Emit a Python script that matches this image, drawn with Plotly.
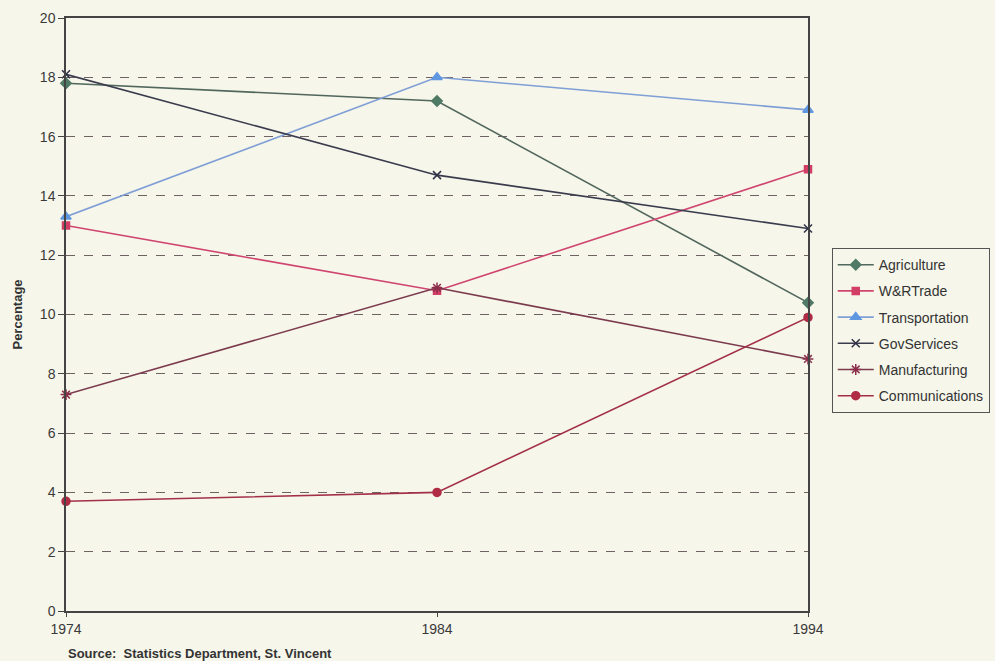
import plotly.graph_objects as go

# Share of GDP by sector, St. Vincent (percent)
years = [1974, 1984, 1994]
agriculture = [17.8, 17.2, 10.4]
wr_trade = [13.0, 10.8, 14.9]
transportation = [13.3, 18.0, 16.9]
gov_services = [18.1, 14.7, 12.9]
manufacturing = [7.3, 10.9, 8.5]
communications = [3.7, 4.0, 9.9]

year_labels = ["1974", "1984", "1994"]
y_ticks = list(range(0, 21, 2))

series = [
    ("Agriculture", agriculture, "#51665c", "#4f7a66", "diamond", 8),
    ("W&RTrade", wr_trade, "#d04470", "#d23e66", "square", 7),
    ("Transportation", transportation, "#7f9fd6", "#5f97e0", "triangle-up", 9),
    ("GovServices", gov_services, "#3a3c4e", "#2e3146", "x-thin-open", 8),
    ("Manufacturing", manufacturing, "#7c3a4e", "#8a2e4a", "asterisk-open", 9),
    ("Communications", communications, "#a43048", "#b02c45", "circle", 8),
]

bg = "#f6f6ea"
font_family = "Liberation Sans, Arial, sans-serif"

fig = go.Figure()
for i, (name, vals, lcol, mcol, sym, size) in enumerate(series):
    fig.add_trace(go.Scatter(
        x=years, y=vals, name=name, mode="lines+markers",
        line=dict(color=lcol, width=1.6),
        marker=dict(symbol=sym, size=size, color=mcol,
                    line=dict(color=mcol, width=1.5)),
        cliponaxis=False,
        legendgroup=f"g{i}",
    ))

fig.update_layout(
    width=995, height=661,
    margin=dict(l=66, r=187, t=18, b=50, autoexpand=False),
    paper_bgcolor=bg, plot_bgcolor=bg,
    font=dict(family=font_family, size=14, color="#3a3a3a"),
    showlegend=True,
    legend=dict(
        x=1.032, xanchor="left", y=0.612, yanchor="top",
        bgcolor=bg, bordercolor="#555555", borderwidth=1,
        font=dict(size=14, color="#333333"),
        tracegroupgap=5, itemwidth=36,
    ),
    xaxis=dict(
        range=[1974, 1994], tickvals=years, ticktext=year_labels,
        showgrid=False, zeroline=False,
        showline=True, linecolor="#444444", linewidth=1.5, mirror=True,
        ticks="outside", ticklen=4, tickcolor="#444444",
        tickfont=dict(size=14, color="#3a3a3a"),
    ),
    yaxis=dict(
        range=[0, 20], tickvals=y_ticks,
        showgrid=True, gridcolor="#6e6262", griddash="dash", gridwidth=1,
        zeroline=False,
        showline=True, linecolor="#444444", linewidth=1.5, mirror=True,
        ticks="outside", ticklen=6, tickcolor="#444444",
        tickfont=dict(size=14, color="#3a3a3a"),
        title=dict(text="<b>Percentage</b>", font=dict(size=13, color="#333333"),
                   standoff=14),
    ),
)

fig.add_annotation(
    text="<b>Source:  Statistics Department, St. Vincent</b>",
    xref="paper", yref="paper", x=0, y=-0.071, xanchor="left", yanchor="middle",
    showarrow=False, font=dict(size=13, color="#333333"),
)

fig.write_html("out.html")
